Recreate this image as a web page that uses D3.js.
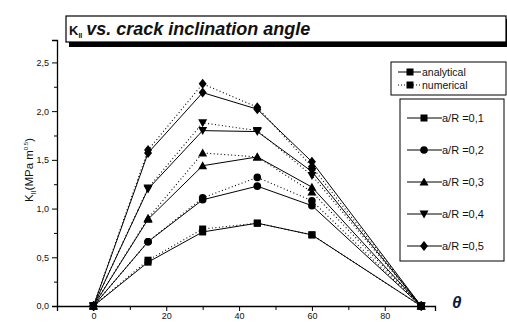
<!DOCTYPE html>
<meta charset="utf-8">
<style>
body { margin: 0; background: #fff; }
text { font-family: "Liberation Sans", Arial, sans-serif; fill: #111; }
.tick text { font-size: 9px; }
</style>
<body>
<svg width="507" height="322"></svg>
<script src="https://d3js.org/d3.v7.min.js"></script>
<script>

var theta = [0, 15, 30, 45, 60, 90];
var ratios = ["0,1", "0,2", "0,3", "0,4", "0,5"];
var shapes = ["square", "circle", "triangle", "triangleDown", "diamond"];

var analytical = [
  [0, 0.45, 0.76, 0.85, 0.73, 0],
  [0, 0.66, 1.09, 1.23, 1.03, 0],
  [0, 0.89, 1.44, 1.53, 1.22, 0],
  [0, 1.20, 1.80, 1.79, 1.38, 0],
  [0, 1.57, 2.19, 2.02, 1.48, 0]
];
var numerical = [
  [0, 0.47, 0.79, 0.85, 0.73, 0],
  [0, 0.66, 1.11, 1.32, 1.08, 0],
  [0, 0.90, 1.57, 1.53, 1.17, 0],
  [0, 1.21, 1.88, 1.80, 1.34, 0],
  [0, 1.60, 2.28, 2.04, 1.43, 0]
];

var yTicks = [0, 0.5, 1.0, 1.5, 2.0, 2.5];
var xTicks = [0, 20, 40, 60, 80];

var svg = d3.select("svg");

var x = d3.scaleLinear().domain([-10, 93.8]).range([57, 435]);
var y = d3.scaleLinear().domain([0, 2.73]).range([306, 40]);

function fmt(d) { return d3.format(".1f")(d).replace(".", ","); }

// y axis
svg.append("g")
    .attr("transform", "translate(57,0)")
    .call(d3.axisLeft(y).tickValues(yTicks).tickFormat(fmt).tickSize(5).tickPadding(3));
svg.append("g")
    .attr("transform", "translate(57,0)")
    .call(d3.axisLeft(y).tickValues([0.25, 0.75, 1.25, 1.75, 2.25]).tickFormat("").tickSize(3))
    .select(".domain").remove();

// x axis
svg.append("g")
    .attr("transform", "translate(0,306)")
    .call(d3.axisBottom(x).tickValues(xTicks).tickSize(5).tickPadding(1.5));
svg.append("g")
    .attr("transform", "translate(0,306)")
    .call(d3.axisBottom(x).tickValues([10, 30, 50, 70, 90]).tickFormat("").tickSize(4))
    .select(".domain").remove();

svg.selectAll(".domain").attr("stroke-width", 1.3);

// shape helper
function marker(sel, shape, cx, cy) {
  if (shape == "square") {
    sel.append("rect").attr("x", cx - 3.5).attr("y", cy - 3.5).attr("width", 7).attr("height", 7);
  } else if (shape == "circle") {
    sel.append("circle").attr("cx", cx).attr("cy", cy).attr("r", 3.8);
  } else if (shape == "triangle") {
    sel.append("path").attr("d", "M" + cx + "," + (cy - 4.5) + "L" + (cx + 4.5) + "," + (cy + 3.5) + "L" + (cx - 4.5) + "," + (cy + 3.5) + "Z");
  } else if (shape == "triangleDown") {
    sel.append("path").attr("d", "M" + cx + "," + (cy + 4.5) + "L" + (cx + 4.5) + "," + (cy - 3.5) + "L" + (cx - 4.5) + "," + (cy - 3.5) + "Z");
  } else {
    sel.append("path").attr("d", "M" + cx + "," + (cy - 5) + "L" + (cx + 4) + "," + cy + "L" + cx + "," + (cy + 5) + "L" + (cx - 4) + "," + cy + "Z");
  }
}

var line = d3.line()
    .x(function(d, i) { return x(theta[i]); })
    .y(function(d) { return y(d); });

var plot = svg.append("g");

for (var s = 0; s < ratios.length; s++) {
  plot.append("path")
      .attr("d", line(numerical[s]))
      .attr("fill", "none")
      .attr("stroke", "#000")
      .attr("stroke-width", 1.1)
      .attr("stroke-dasharray", "1,2.5");
  plot.append("path")
      .attr("d", line(analytical[s]))
      .attr("fill", "none")
      .attr("stroke", "#000")
      .attr("stroke-width", 1);
  var m = plot.append("g").attr("fill", "#000");
  for (var i = 0; i < theta.length; i++) {
    marker(m, shapes[s], x(theta[i]), y(numerical[s][i]));
    marker(m, shapes[s], x(theta[i]), y(analytical[s][i]));
  }
}

// y label
var yl = svg.append("text")
    .attr("transform", "translate(33,170) rotate(-90)")
    .attr("text-anchor", "middle")
    .style("font-size", "11.5px");
yl.append("tspan").text("K");
yl.append("tspan").attr("dy", 3).style("font-size", "7px").text("II");
yl.append("tspan").attr("dy", -3).text("(MPa m");
yl.append("tspan").attr("dy", -5).style("font-size", "6px").text("0.5");
yl.append("tspan").attr("dy", 5).text(")");

// theta label
svg.append("text")
    .attr("x", 452).attr("y", 308)
    .style("font-size", "17px")
    .style("font-weight", "bold")
    .style("font-style", "italic")
    .style("fill", "#0a1a40")
    .text("\u03b8");

// title box
svg.append("rect").attr("x", 69).attr("y", 19).attr("width", 440).attr("height", 28).attr("fill", "#000");
svg.append("rect").attr("x", 66).attr("y", 16).attr("width", 440).attr("height", 26)
    .attr("fill", "#fff").attr("stroke", "#000").attr("stroke-width", 1.2);
var t = svg.append("text").attr("x", 69).attr("y", 35)
    .style("font-weight", "bold");
t.append("tspan").style("font-size", "13px").text("K");
t.append("tspan").attr("dy", 3).style("font-size", "7px").text("II");
t.append("tspan").attr("dy", -3).attr("dx", 4).style("font-size", "18px").style("font-style", "italic").text("vs. crack inclination angle");

// legend 1
var l1 = svg.append("g");
l1.append("rect").attr("x", 391).attr("y", 62).attr("width", 115).attr("height", 33)
    .attr("fill", "#fff").attr("stroke", "#000");
var types = ["analytical", "numerical"];
types.forEach(function(tp, i) {
  var ly = 72 + i * 13;
  l1.append("line").attr("x1", 398).attr("x2", 421).attr("y1", ly).attr("y2", ly)
      .attr("stroke", "#000").attr("stroke-dasharray", i ? "1,2" : null);
  marker(l1.append("g"), "square", 410, ly);
  l1.append("text").attr("x", 422).attr("y", ly + 4).style("font-size", "10.5px").text(tp);
});

// legend 2
var l2 = svg.append("g");
l2.append("rect").attr("x", 400).attr("y", 99).attr("width", 104).attr("height", 162)
    .attr("fill", "#fff").attr("stroke", "#000");
ratios.forEach(function(r, i) {
  var ly = 118 + i * 32;
  l2.append("line").attr("x1", 407).attr("x2", 442).attr("y1", ly).attr("y2", ly).attr("stroke", "#000");
  marker(l2.append("g"), shapes[i], 424, ly);
  l2.append("text").attr("x", 442).attr("y", ly + 4).style("font-size", "11px").text("a/R =" + r);
});

</script>
</body>
</html>
